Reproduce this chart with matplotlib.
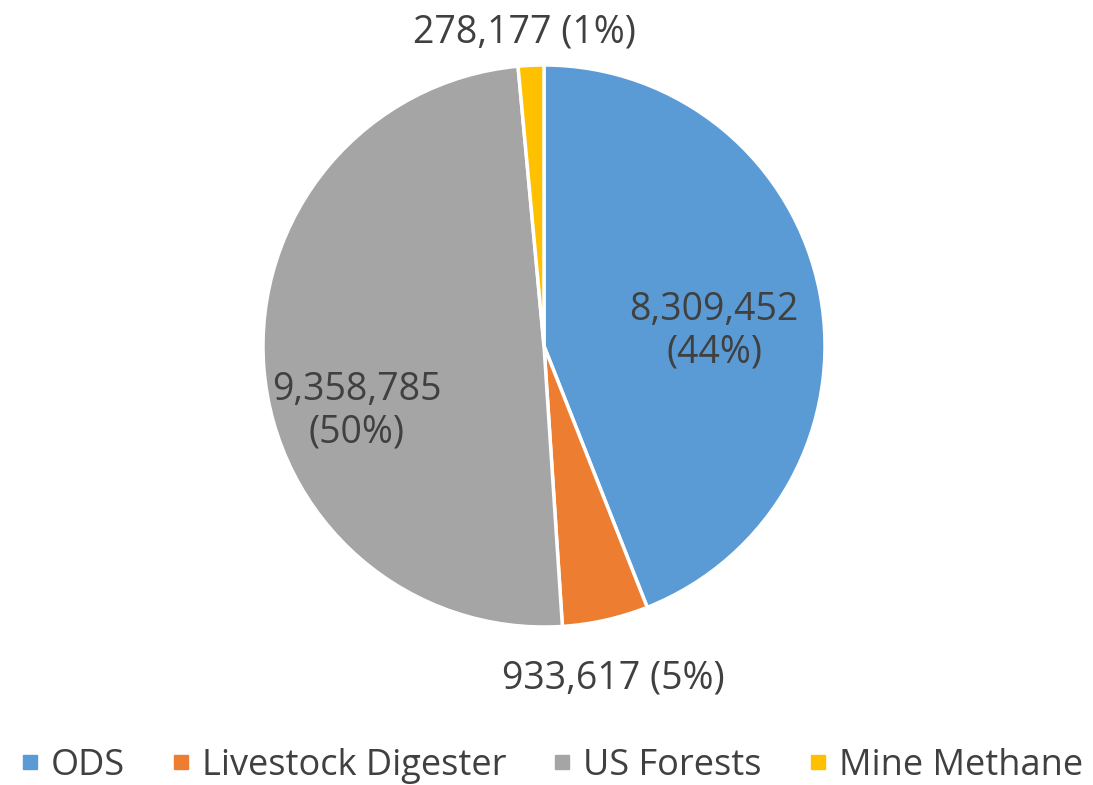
import matplotlib
matplotlib.use("Agg")
import matplotlib.pyplot as plt
from matplotlib.lines import Line2D

categories = ["ODS", "Livestock Digester", "US Forests", "Mine Methane"]
values = [8309452, 933617, 9358785, 278177]
pcts = ["44%", "5%", "50%", "1%"]
colors = ["#5B9BD5", "#ED7D31", "#A5A5A5", "#FFC000"]

plt.rcParams["font.family"] = ["Open Sans", "DejaVu Sans"]
txt_color = "#404040"

fig = plt.figure(figsize=(10.93, 7.85), dpi=100)
ax = fig.add_axes([0, 0, 1, 1])

wedges, _ = ax.pie(values, colors=colors, startangle=90, counterclock=False,
                   center=(544, 439), radius=281,
                   wedgeprops=dict(edgecolor="white", linewidth=2.5))
ax.set_xlim(0, 1093)
ax.set_ylim(0, 785)
ax.set_aspect("equal")
ax.axis("off")

fs = 27
lab = [f"{v:,}" for v in values]
ax.text(714, 454, f"{lab[0]}\n({pcts[0]})", ha="center", va="center",
        fontsize=fs, color=txt_color, linespacing=1.15)
ax.text(357, 374, f"{lab[2]}\n({pcts[2]})", ha="center", va="center",
        fontsize=fs, color=txt_color, linespacing=1.15)
ax.text(613, 107, f"{lab[1]} ({pcts[1]})", ha="center", va="center",
        fontsize=fs, color=txt_color)
ax.text(524, 752, f"{lab[3]} ({pcts[3]})", ha="center", va="center",
        fontsize=fs, color=txt_color)

handles = [Line2D([0], [0], marker="s", linestyle="none", markersize=10,
                  markerfacecolor=c, markeredgecolor=c) for c in colors]
fig.legend(handles, categories, loc="center", ncol=4, frameon=False,
           bbox_to_anchor=(0.505, 1 - 766 / 785), fontsize=26,
           labelcolor=txt_color, handletextpad=0.33, columnspacing=1.3,
           handlelength=0.5)

fig.savefig("out.png", dpi=100)
